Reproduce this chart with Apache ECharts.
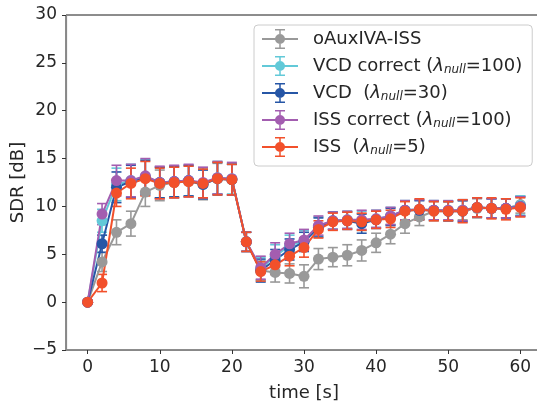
<!DOCTYPE html>
<html>
<head>
<meta charset="utf-8">
<script src="https://cdn.jsdelivr.net/npm/echarts@6/dist/echarts.min.js"></script>
<style>html,body{margin:0;padding:0;background:#fff}#c{width:537px;height:401px}</style>
</head>
<body>
<div id="c"></div>
<script>
const times = [0,2,4,6,8,10,12,14,16,18,20,22,24,26,28,30,32,34,36,38,40,42,44,46,48,50,52,54,56,58,60];
const xTicks = [0,10,20,30,40,50,60];
const seriesNames = ['oAuxIVA-ISS','VCD correct (λnull=100)','VCD  (λnull=30)','ISS correct (λnull=100)','ISS  (λnull=5)'];
const colors = ['#999999','#62c9d8','#2656a6','#a35db0','#f2502b'];

const gray     = [0,4.2,7.3,8.2,11.5,12.2,12.5,12.6,12.3,12.9,12.8,6.3,3.3,3.1,3.0,2.7,4.5,4.7,4.9,5.4,6.2,7.1,8.2,8.9,9.5,9.5,9.6,9.8,9.8,9.8,10.2];
const grayErr  = [0,1.0,1.3,1.3,1.5,1.6,1.6,1.6,1.6,1.6,1.6,1.0,1.0,1.0,1.0,1.2,1.1,1.0,1.1,1.1,1.0,1.0,1.0,0.9,1.0,1.0,1.0,1.0,1.0,1.0,0.9];
const cyan     = [0,8.5,12.3,12.7,13.1,12.5,12.6,12.7,12.4,13.0,12.9,6.3,3.5,4.8,5.9,6.4,7.9,8.5,8.6,8.5,8.7,9.0,9.6,9.7,9.6,9.6,9.6,9.9,9.8,9.8,10.1];
const cyanErr  = [0,1.2,1.7,1.7,1.8,1.6,1.6,1.6,1.5,1.7,1.6,1.0,1.2,1.2,1.1,1.1,1.0,0.9,0.9,1.0,0.9,0.9,1.0,1.0,1.0,1.0,1.1,1.0,1.0,1.0,1.0];
const blue     = [0,6.1,12.0,12.6,13.0,12.5,12.6,12.7,12.3,12.9,12.8,6.3,3.3,4.4,5.5,6.3,7.8,8.5,8.5,8.2,8.6,8.9,9.6,9.6,9.6,9.5,9.5,9.9,9.8,9.8,10.0];
const blueErr  = [0,0.9,1.6,1.7,1.8,1.6,1.6,1.6,1.5,1.7,1.6,1.0,1.2,1.1,1.1,1.0,1.0,0.9,0.9,1.0,0.9,0.9,1.0,1.0,1.0,1.0,1.1,1.0,1.0,1.0,1.0];
const purple   = [0,9.2,12.7,12.7,13.2,12.5,12.6,12.7,12.5,13.0,12.9,6.3,3.6,5.0,6.1,6.5,8.0,8.5,8.6,8.6,8.7,9.0,9.6,9.7,9.6,9.6,9.6,9.9,9.8,9.8,10.0];
const purpleErr= [0,1.1,1.6,1.7,1.8,1.7,1.7,1.7,1.6,1.7,1.7,1.0,1.2,1.2,1.1,1.1,1.0,0.9,0.9,1.0,0.9,0.9,1.0,1.0,1.0,1.0,1.1,1.0,1.0,1.0,1.0];
const red      = [0,2.0,11.4,12.4,12.9,12.4,12.5,12.6,12.4,12.9,12.8,6.3,3.2,3.9,4.8,5.7,7.6,8.4,8.5,8.4,8.6,8.7,9.5,9.7,9.5,9.5,9.5,9.9,9.8,9.7,9.9];
const redErr   = [0,0.9,1.4,1.6,1.8,1.6,1.6,1.6,1.5,1.7,1.6,1.0,1.0,1.0,1.0,1.0,0.9,0.9,0.9,0.9,0.9,0.9,1.0,1.1,1.0,1.0,1.2,1.0,1.1,1.1,1.0];

const values = [gray, cyan, blue, purple, red];
const errors = [grayErr, cyanErr, blueErr, purpleErr, redErr];

const FONT = 'DejaVu Sans';
const TXT = '#262626';
const iconPath = 'path://M0 9 L36 9 L36 11 L0 11 Z M17.25 1 L18.75 1 L18.75 19 L17.25 19 Z M13 0 L23 0 L23 1.5 L13 1.5 Z M13 18.5 L23 18.5 L23 20 L13 20 Z M23 10 A5 5 0 1 1 13 10 A5 5 0 1 1 23 10 Z';

function errRender(params, api) {
  const x = api.value(0), y = api.value(1), e = api.value(2);
  const hi = api.coord([x, y + e]), lo = api.coord([x, y - e]);
  const c = api.visual('color');
  const w = 5, lw = 1.6;
  return {type: 'group', children: [
    {type: 'line', shape: {x1: hi[0], y1: hi[1], x2: lo[0], y2: lo[1]}, style: {stroke: c, lineWidth: lw}},
    {type: 'line', shape: {x1: hi[0] - w, y1: hi[1], x2: hi[0] + w, y2: hi[1]}, style: {stroke: c, lineWidth: lw}},
    {type: 'line', shape: {x1: lo[0] - w, y1: lo[1], x2: lo[0] + w, y2: lo[1]}, style: {stroke: c, lineWidth: lw}}
  ]};
}

const series = [];
values.forEach((vals, k) => {
  series.push({
    type: 'custom', name: 'err' + k, renderItem: errRender, itemStyle: {color: colors[k]},
    data: times.map((t, i) => [t, vals[i], errors[k][i]]), silent: true, z: 2
  });
  series.push({
    type: 'line', name: seriesNames[k], data: times.map((t, i) => [t, vals[i]]),
    symbol: 'circle', symbolSize: 11, showSymbol: true,
    lineStyle: {color: colors[k], width: 2}, itemStyle: {color: colors[k]}, z: 2
  });
});

const chart = echarts.init(document.getElementById('c'), null, {renderer: 'canvas'});
chart.setOption({
  animation: false,
  backgroundColor: '#fff',
  grid: {left: 66, right: -5, top: 15, bottom: 51, outerBoundsMode: 'none', containLabel: false,
         show: true, borderColor: '#1a1a1a', borderWidth: 1, backgroundColor: 'transparent'},
  legend: {
    orient: 'vertical', left: 254, top: 25,
    padding: [4, 10, 9, 8],
    itemGap: 7, itemWidth: 36, itemHeight: 20,
    backgroundColor: 'rgba(255,255,255,0.85)', borderColor: '#cccccc', borderWidth: 1, borderRadius: 4,
    data: seriesNames.map(n => ({name: n, icon: iconPath})),
    itemStyle: {borderWidth: 0},
    textStyle: {
      fontFamily: FONT, fontSize: 18, color: TXT, padding: [0, 0, 0, 10], lineHeight: 20,
      rich: {
        l: {fontFamily: FONT, fontSize: 18, fontStyle: 'italic', color: TXT, lineHeight: 20},
        s: {fontFamily: FONT, fontSize: 12, fontStyle: 'italic', color: TXT, verticalAlign: 'bottom', lineHeight: 14}
      }
    },
    formatter: name => name.replace('λnull', '{l|λ}{s|null}')
  },
  xAxis: {
    type: 'value', min: -3, max: 63,
    name: 'time [s]', nameLocation: 'middle', nameGap: 34, nameMoveOverlap: false,
    nameTextStyle: {fontFamily: FONT, fontSize: 18, color: TXT},
    axisLine: {show: true, onZero: false, lineStyle: {color: '#888', width: 1.2}},
    axisTick: {show: true, length: 4, customValues: xTicks, lineStyle: {color: '#333'}},
    axisLabel: {customValues: xTicks, margin: 9, fontFamily: FONT, fontSize: 17, color: TXT},
    splitLine: {show: false}
  },
  yAxis: {
    type: 'value', min: -5, max: 30, interval: 5,
    name: 'SDR [dB]', nameLocation: 'middle', nameGap: 39, nameMoveOverlap: false,
    nameTextStyle: {fontFamily: FONT, fontSize: 18, color: TXT},
    axisLine: {show: true, onZero: false, lineStyle: {color: '#888', width: 1.2}},
    axisTick: {show: true, length: 4, lineStyle: {color: '#333'}},
    axisLabel: {margin: 9, fontFamily: FONT, fontSize: 17, color: TXT, formatter: v => String(v).replace('-', '\u2212')},
    splitLine: {show: false}
  },
  series: series
});
</script>
</body>
</html>
